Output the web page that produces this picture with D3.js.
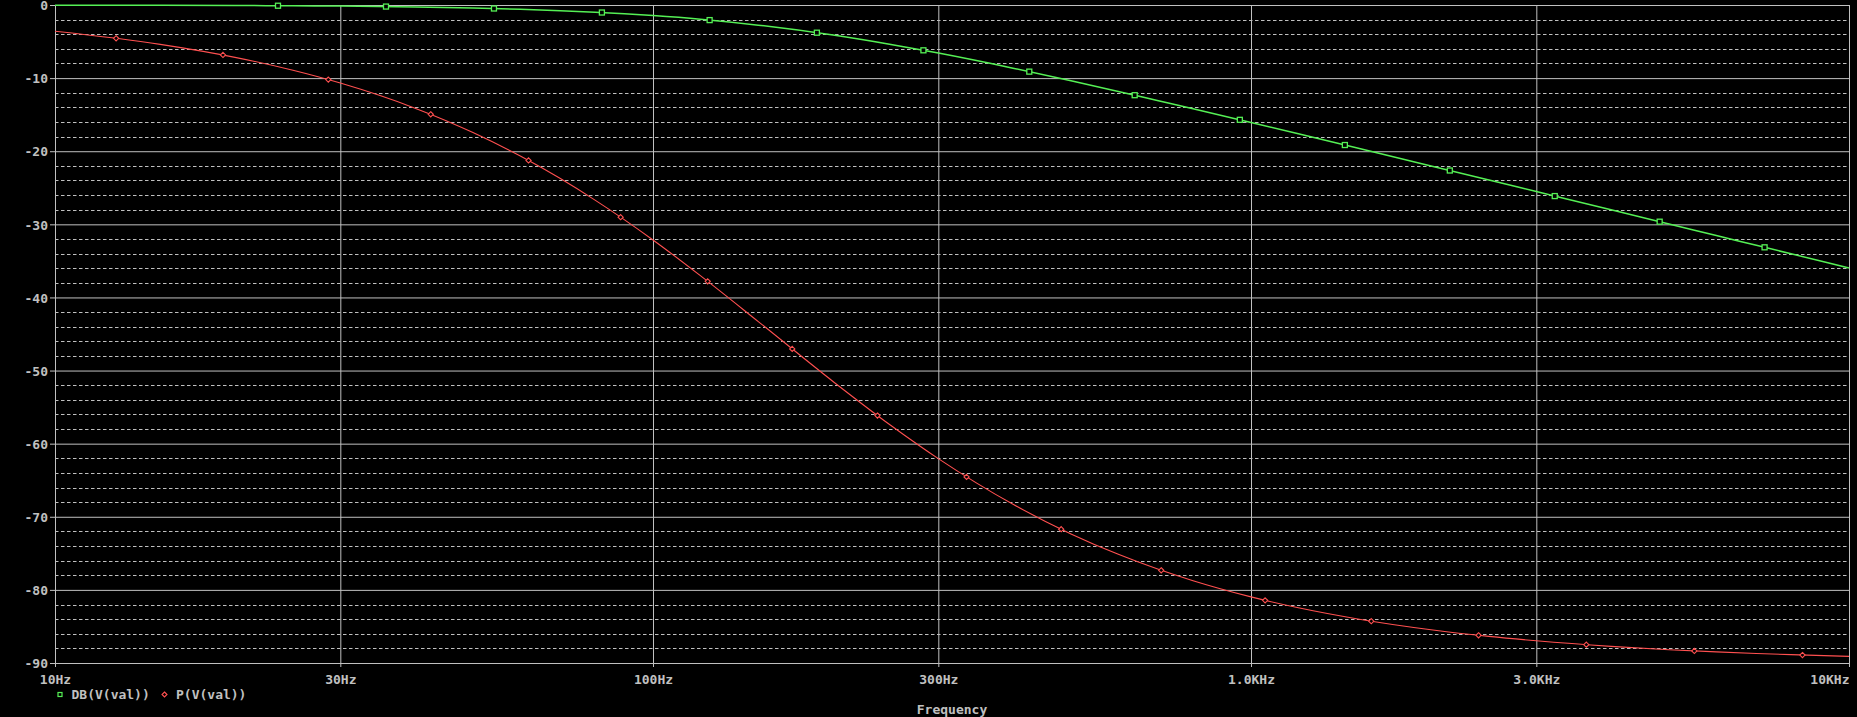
<!DOCTYPE html>
<html>
<head>
<meta charset="utf-8">
<script src="https://cdn.jsdelivr.net/npm/d3@7"></script>
<style>
  html, body { margin: 0; padding: 0; background: #000; }
  svg { display: block; }
  text { font-family: "DejaVu Sans Mono", "Liberation Mono", monospace; font-size: 13px; font-weight: bold; fill: #c0c0c0; }
</style>
</head>
<body>
<svg id="chart" width="1857" height="717"></svg>
<script>
// ---- Data ----
const freqs = [10,15,20,25,30,40,50,60,70,80,100,120,150,200,250,300,400,500,600,700,800,1000,1200,1500,2000,2500,3000,4000,5000,6000,7000,8000,10000];
const dbValues = [-0.02,-0.04,-0.07,-0.11,-0.15,-0.27,-0.41,-0.58,-0.77,-0.98,-1.45,-1.95,-2.76,-4.11,-5.40,-6.58,-8.64,-10.36,-11.82,-13.09,-14.19,-16.07,-17.62,-19.53,-22.01,-23.94,-25.52,-28.01,-29.95,-31.53,-32.87,-34.03,-35.97];
const phaseValues = [-3.6,-5.38,-7.16,-8.93,-10.68,-14.11,-17.44,-20.66,-23.74,-26.69,-32.14,-37.02,-43.30,-51.49,-57.52,-62.05,-68.30,-72.34,-75.14,-77.19,-78.75,-80.96,-82.45,-83.94,-85.45,-86.36,-86.96,-87.72,-88.18,-88.48,-88.70,-88.86,-89.09];
const xTickValues = [10,30,100,300,1000,3000,10000];
const xTickLabels = ["10Hz","30Hz","100Hz","300Hz","1.0KHz","3.0KHz","10KHz"];
const yTickValues = [0,-10,-20,-30,-40,-50,-60,-70,-80,-90];
const yTickLabels = ["0","-10","-20","-30","-40","-50","-60","-70","-80","-90"];
const yMinorValues = d3.range(-88, 0, 2).filter(v => v % 10 !== 0);
const seriesNames = ["DB(V(val))", "P(V(val))"];

// ---- Layout ----
const L = 55, R = 1849, T = 5, B = 663;
const GRID = "#c0c0c0";
const GREEN = "#55f055";
const RED = "#ff5050";

const svg = d3.select("#chart");
svg.append("rect").attr("width", 1857).attr("height", 717).attr("fill", "#000");

const x = d3.scaleLog().domain([10, 10000]).range([L, R]);
const y = d3.scaleLinear().domain([-90, 0]).range([B, T]);

// minor dashed horizontal grid
svg.append("g").selectAll("line").data(yMinorValues).join("line")
  .attr("x1", L).attr("x2", R)
  .attr("y1", d => Math.round(y(d)) + 0.5).attr("y2", d => Math.round(y(d)) + 0.5)
  .attr("stroke", GRID).attr("stroke-width", 1).attr("stroke-dasharray", "3.5,2.5");

// major solid horizontal grid + y labels
const yAxis = d3.axisLeft(y).tickValues(yTickValues)
  .tickFormat((d, i) => yTickLabels[i]).tickSize(5).tickPadding(2);
const gy = svg.append("g").attr("transform", `translate(${L},0)`).call(yAxis);
gy.select(".domain").remove();
gy.selectAll(".tick line").attr("x2", R - L).attr("x1", -5).attr("stroke", GRID);
gy.selectAll(".tick text").attr("font-size", null).attr("font-family", null).attr("fill", GRID).attr("x", -7).attr("dy", "0.36em");

// vertical grid + x labels
const xAxis = d3.axisBottom(x).tickValues(xTickValues)
  .tickFormat((d, i) => xTickLabels[i]).tickSize(4).tickPadding(7);
const gx = svg.append("g").attr("transform", `translate(0,${B})`).call(xAxis);
gx.select(".domain").remove();
gx.selectAll(".tick line").attr("y1", -(B - T)).attr("y2", 4).attr("stroke", GRID);
gx.selectAll(".tick text").attr("font-size", null).attr("font-family", null).attr("fill", GRID)
  .attr("dy", null).attr("y", 21)
  .attr("text-anchor", (d, i) => i === xTickValues.length - 1 ? "end" : "middle");

// traces
const lineGen = vals => d3.line()
  .x((d, i) => x(freqs[i])).y(d => y(d))
  .curve(d3.curveMonotoneX)(vals);

const greenPath = svg.append("path").attr("d", lineGen(dbValues))
  .attr("fill", "none").attr("stroke", GREEN).attr("stroke-width", 1.5);
const redPath = svg.append("path").attr("d", lineGen(phaseValues))
  .attr("fill", "none").attr("stroke", RED).attr("stroke-width", 1.1);

function markerPoints(pathSel, offset, step) {
  const node = pathSel.node(), len = node.getTotalLength(), pts = [];
  for (let s = offset; s <= len; s += step) pts.push(node.getPointAtLength(s));
  return pts;
}
const sq = 5;
svg.append("g").selectAll("rect").data(markerPoints(greenPath, 223, 108)).join("rect")
  .attr("x", p => p.x - sq / 2).attr("y", p => p.y - sq / 2)
  .attr("width", sq).attr("height", sq)
  .attr("fill", "#000").attr("stroke", GREEN).attr("stroke-width", 1.3);
const diamond = "M0,-2.6L2.6,0L0,2.6L-2.6,0Z";
svg.append("g").selectAll("path").data(markerPoints(redPath, 61.5, 108.2)).join("path")
  .attr("d", diamond).attr("transform", p => `translate(${p.x},${p.y})`)
  .attr("fill", "#000").attr("stroke", RED).attr("stroke-width", 1.1);

// legend
const lg = svg.append("g");
lg.append("rect").attr("x", 58).attr("y", 692.5).attr("width", 4).attr("height", 4)
  .attr("fill", "none").attr("stroke", GREEN).attr("stroke-width", 1.2);
lg.append("text").attr("x", 71.5).attr("y", 698.5).text(seriesNames[0]);
lg.append("path").attr("d", "M0,-2.5L2.5,0L0,2.5L-2.5,0Z").attr("transform", "translate(164.5,694.5)")
  .attr("fill", "none").attr("stroke", RED).attr("stroke-width", 1.1);
lg.append("text").attr("x", 176).attr("y", 698.5).text(seriesNames[1]);

// x-axis title
svg.append("text").attr("x", (L + R) / 2).attr("y", 713.5).attr("text-anchor", "middle").text("Frequency");
</script>
</body>
</html>
